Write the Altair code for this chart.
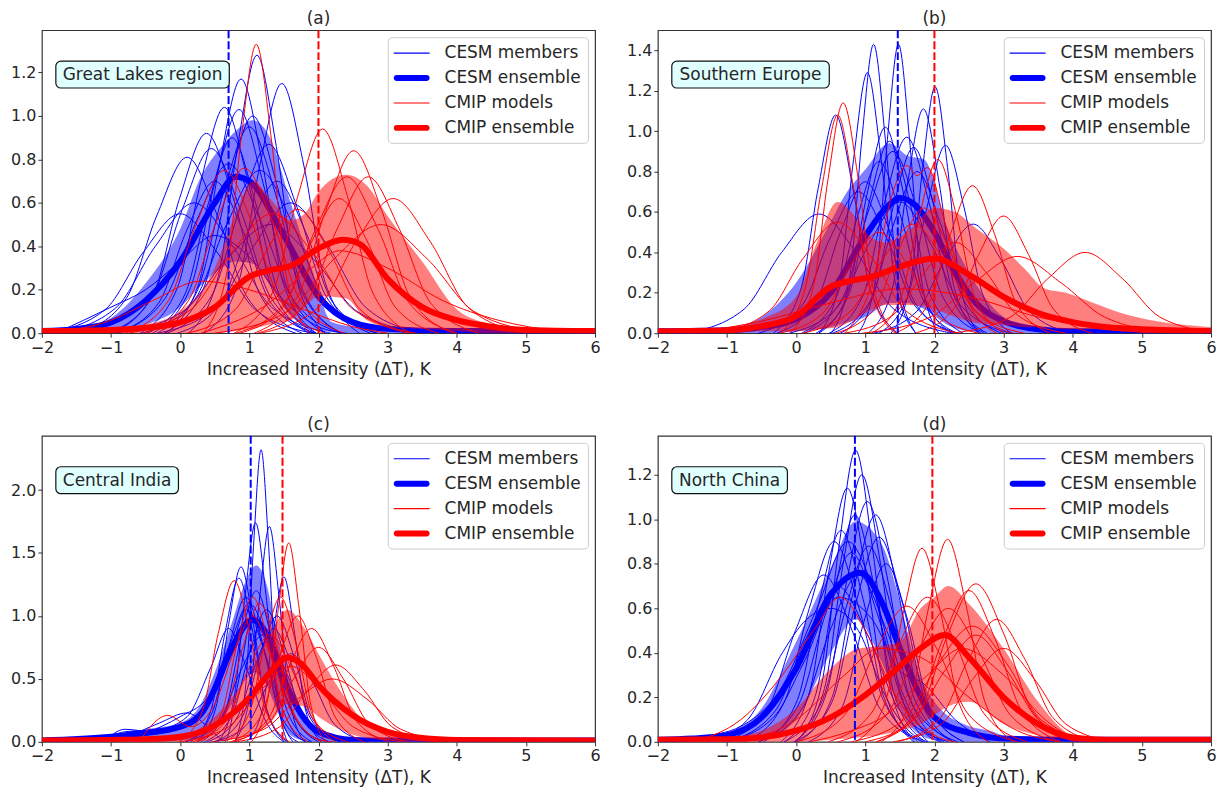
import altair as alt
import pandas as pd

# ---------------- data ----------------
SERIES = ["CESM members", "CESM ensemble", "CMIP models", "CMIP ensemble"]
X_TICKS = [-2, -1, 0, 1, 2, 3, 4, 5, 6]

# ----- (a) Great Lakes region -----
A_CESM_MEMBERS = [
    ([0.12, 0.55, 0.83, 1.11, 1.39, 1.67, 2.10], [0, 0.26, 0.86, 1.28, 0.86, 0.26, 0]),
    ([-0.21, 0.27, 0.57, 0.88, 1.19, 1.49, 1.97], [0, 0.23, 0.78, 1.17, 0.78, 0.23, 0]),
    ([0.35, 0.84, 1.15, 1.47, 1.79, 2.10, 2.59], [0, 0.23, 0.77, 1.15, 0.77, 0.23, 0]),
    ([-0.58, -0.04, 0.30, 0.64, 0.98, 1.32, 1.86], [0, 0.21, 0.70, 1.04, 0.70, 0.21, 0]),
    ([-0.40, 0.15, 0.50, 0.85, 1.20, 1.55, 2.10], [0, 0.21, 0.69, 1.03, 0.69, 0.21, 0]),
    ([-1.00, -0.39, -0.01, 0.38, 0.77, 1.15, 1.76], [0, 0.18, 0.62, 0.92, 0.62, 0.18, 0]),
    ([-1.47, -0.78, -0.34, 0.10, 0.54, 0.98, 1.67], [0, 0.16, 0.54, 0.81, 0.54, 0.16, 0]),
    ([-0.19, 0.45, 0.87, 1.28, 1.69, 2.11, 2.75], [0, 0.17, 0.58, 0.87, 0.58, 0.17, 0]),
    ([-0.34, 0.24, 0.62, 1.00, 1.38, 1.76, 2.34], [0, 0.19, 0.64, 0.95, 0.64, 0.19, 0]),
    ([-0.93, -0.22, 0.24, 0.70, 1.16, 1.62, 2.33], [0, 0.16, 0.52, 0.78, 0.52, 0.16, 0]),
    ([-0.55, 0.20, 0.67, 1.15, 1.63, 2.10, 2.85], [0, 0.15, 0.50, 0.75, 0.50, 0.15, 0]),
    ([-1.78, -0.92, -0.36, 0.20, 0.76, 1.32, 2.18], [0, 0.12, 0.40, 0.60, 0.40, 0.12, 0]),
    ([-1.8, -1.0, -0.5, 0.0, 0.5, 1.0, 1.5, 2.0, 2.4], [0, 0.12, 0.20, 0.33, 0.45, 0.35, 0.15, 0.03, 0]),
    ([-0.32, 0.52, 1.06, 1.60, 2.14, 2.68, 3.52], [0, 0.12, 0.40, 0.60, 0.40, 0.12, 0]),
    ([-0.94, 0.04, 0.67, 1.30, 1.93, 2.56, 3.54], [0, 0.10, 0.34, 0.50, 0.34, 0.10, 0]),
    ([-0.94, -0.31, 0.09, 0.50, 0.91, 1.31, 1.94], [0, 0.14, 0.47, 0.70, 0.47, 0.14, 0]),
    ([-1.05, -0.40, 0.03, 0.45, 0.87, 1.30, 1.95], [0, 0.17, 0.57, 0.85, 0.57, 0.17, 0]),
    ([-0.23, 0.33, 0.69, 1.05, 1.41, 1.77, 2.33], [0, 0.20, 0.67, 1.00, 0.67, 0.20, 0]),
    ([-1.92, -1.08, -0.54, 0.00, 0.54, 1.08, 1.92], [0, 0.11, 0.37, 0.55, 0.37, 0.11, 0]),
    ([-0.04, 0.59, 0.99, 1.40, 1.81, 2.21, 2.84], [0, 0.14, 0.47, 0.70, 0.47, 0.14, 0]),
    ([-0.47, 0.07, 0.41, 0.75, 1.09, 1.43, 1.97], [0, 0.18, 0.60, 0.90, 0.60, 0.18, 0]),
]
A_CMIP_MODELS = [
    ([0.33, 0.67, 0.88, 1.10, 1.32, 1.53, 1.87], [0, 0.27, 0.89, 1.33, 0.89, 0.27, 0]),
    ([0.78, 1.34, 1.70, 2.06, 2.42, 2.78, 3.34], [0, 0.19, 0.63, 0.94, 0.63, 0.19, 0]),
    ([1.07, 1.70, 2.10, 2.51, 2.92, 3.32, 3.95], [0, 0.17, 0.56, 0.84, 0.56, 0.17, 0]),
    ([-0.51, 0.12, 0.52, 0.93, 1.34, 1.74, 2.37], [0, 0.15, 0.51, 0.76, 0.51, 0.15, 0]),
    ([-0.80, -0.17, 0.23, 0.64, 1.05, 1.45, 2.08], [0, 0.15, 0.50, 0.75, 0.50, 0.15, 0]),
    ([0.81, 1.51, 1.96, 2.41, 2.86, 3.31, 4.01], [0, 0.14, 0.48, 0.72, 0.48, 0.14, 0]),
    ([1.12, 1.82, 2.27, 2.72, 3.17, 3.62, 4.32], [0, 0.14, 0.48, 0.72, 0.48, 0.14, 0]),
    ([1.16, 2.00, 2.54, 3.08, 3.62, 4.16, 5.00], [0, 0.12, 0.42, 0.62, 0.42, 0.12, 0]),
    ([-0.75, 0.16, 0.74, 1.33, 1.92, 2.50, 3.41], [0, 0.11, 0.37, 0.55, 0.37, 0.11, 0]),
    ([-1.9, -1.0, -0.4, 0.3, 1.0, 1.7, 2.5, 3.0], [0, 0.06, 0.15, 0.24, 0.20, 0.12, 0.03, 0]),
    ([0.50, 1.55, 2.22, 2.90, 3.58, 4.25, 5.30], [0, 0.10, 0.34, 0.50, 0.34, 0.10, 0]),
    ([0.3, 1.2, 1.9, 2.3, 3.0, 3.8, 4.6, 5.5, 6.0], [0, 0.12, 0.30, 0.38, 0.30, 0.15, 0.06, 0.01, 0]),
    ([0.10, 0.80, 1.25, 1.70, 2.15, 2.60, 3.30], [0, 0.11, 0.38, 0.57, 0.38, 0.11, 0]),
    ([0.86, 1.49, 1.90, 2.30, 2.71, 3.11, 3.74], [0, 0.12, 0.42, 0.62, 0.42, 0.12, 0]),
]
A_CESM_ENS = ([-2, -1.5, -1, -0.5, 0, 0.5, 0.8, 1.0, 1.5, 2.0, 2.5, 3.0, 4.0, 6.0],
              [0.01, 0.02, 0.05, 0.15, 0.33, 0.60, 0.72, 0.70, 0.45, 0.17, 0.05, 0.02, 0.01, 0.01])
A_CMIP_ENS = ([-2, -1, -0.5, 0, 0.5, 1.0, 1.3, 1.6, 2.0, 2.35, 2.6, 3.0, 3.5, 4.0, 4.5, 5.0, 6.0],
              [0.01, 0.015, 0.025, 0.05, 0.12, 0.26, 0.29, 0.31, 0.39, 0.43, 0.41, 0.25, 0.12, 0.06, 0.03, 0.015, 0.01])
A_CESM_BAND_X = [-2, -1.5, -1, -0.5, 0, 0.3, 0.6, 0.8, 1.05, 1.3, 1.6, 1.9, 2.2, 2.5, 3, 4, 6]
A_CESM_BAND_HI = [0.01, 0.02, 0.07, 0.23, 0.48, 0.72, 0.86, 0.93, 0.98, 0.90, 0.60, 0.30, 0.05, 0.03, 0.02, 0.01, 0.01]
A_CESM_BAND_LO = [0, 0, 0.01, 0.04, 0.12, 0.22, 0.3, 0.33, 0.32, 0.22, 0.08, 0.02, 0.005, 0, 0, 0, 0]
A_CMIP_BAND_X = [-2, -1, -0.5, 0, 0.5, 0.8, 1.05, 1.3, 1.6, 1.8, 2.0, 2.4, 2.7, 3.0, 3.5, 4.0, 4.5, 5.0, 6]
A_CMIP_BAND_HI = [0.01, 0.02, 0.04, 0.10, 0.30, 0.55, 0.70, 0.62, 0.52, 0.55, 0.65, 0.73, 0.68, 0.54, 0.33, 0.11, 0.04, 0.015, 0.01]
A_CMIP_BAND_LO = [0, 0, 0, 0, 0, 0.01, 0.02, 0.04, 0.06, 0.12, 0.17, 0.16, 0.06, 0.03, 0.02, 0.01, 0, 0, 0]
A_MEANS = (0.70, 2.00)

# ----- (b) Southern Europe -----
B_CESM_MEMBERS = [
    ([0.51, 0.78, 0.95, 1.12, 1.29, 1.46, 1.73], [0, 0.29, 0.96, 1.43, 0.96, 0.29, 0]),
    ([0.90, 1.16, 1.32, 1.48, 1.64, 1.80, 2.06], [0, 0.29, 0.96, 1.43, 0.96, 0.29, 0]),
    ([0.33, 0.63, 0.83, 1.03, 1.23, 1.43, 1.73], [0, 0.26, 0.86, 1.29, 0.86, 0.26, 0]),
    ([1.37, 1.65, 1.83, 2.01, 2.19, 2.37, 2.65], [0, 0.24, 0.82, 1.22, 0.82, 0.24, 0]),
    ([-0.33, 0.07, 0.32, 0.57, 0.82, 1.07, 1.47], [0, 0.22, 0.72, 1.08, 0.72, 0.22, 0]),
    ([1.04, 1.39, 1.61, 1.84, 2.07, 2.29, 2.64], [0, 0.22, 0.74, 1.11, 0.74, 0.22, 0]),
    ([0.33, 0.75, 1.02, 1.29, 1.56, 1.83, 2.25], [0, 0.20, 0.68, 1.02, 0.68, 0.20, 0]),
    ([1.20, 1.62, 1.89, 2.16, 2.43, 2.70, 3.12], [0, 0.19, 0.62, 0.93, 0.62, 0.19, 0]),
    ([-1.59, -0.75, -0.21, 0.33, 0.87, 1.41, 2.25], [0, 0.12, 0.40, 0.59, 0.40, 0.12, 0]),
    ([1.12, 1.75, 2.15, 2.56, 2.97, 3.37, 4.00], [0, 0.11, 0.36, 0.54, 0.36, 0.11, 0]),
    ([0.48, 0.97, 1.28, 1.60, 1.92, 2.23, 2.72], [0, 0.19, 0.65, 0.97, 0.65, 0.19, 0]),
    ([0.12, 0.68, 1.04, 1.40, 1.76, 2.12, 2.68], [0, 0.18, 0.60, 0.90, 0.60, 0.18, 0]),
    ([0.53, 1.07, 1.41, 1.75, 2.09, 2.43, 2.97], [0, 0.16, 0.54, 0.80, 0.54, 0.16, 0]),
    ([-0.28, 0.28, 0.64, 1.00, 1.36, 1.72, 2.28], [0, 0.15, 0.50, 0.75, 0.50, 0.15, 0]),
    ([0.29, 0.76, 1.05, 1.35, 1.65, 1.94, 2.41], [0, 0.19, 0.64, 0.95, 0.64, 0.19, 0]),
    ([0.08, 0.57, 0.88, 1.20, 1.52, 1.83, 2.32], [0, 0.17, 0.57, 0.85, 0.57, 0.17, 0]),
    ([0.64, 1.11, 1.40, 1.70, 2.00, 2.29, 2.76], [0, 0.18, 0.62, 0.92, 0.62, 0.18, 0]),
    ([-0.54, 0.09, 0.49, 0.90, 1.31, 1.71, 2.34], [0, 0.14, 0.47, 0.70, 0.47, 0.14, 0]),
    ([-0.10, 0.60, 1.05, 1.50, 1.95, 2.40, 3.10], [0, 0.13, 0.44, 0.65, 0.44, 0.13, 0]),
]
B_CMIP_MODELS = [
    ([-0.09, 0.25, 0.46, 0.68, 0.90, 1.11, 1.45], [0, 0.23, 0.76, 1.14, 0.76, 0.23, 0]),
    ([-0.23, 0.13, 0.37, 0.60, 0.83, 1.07, 1.43], [0, 0.22, 0.72, 1.08, 0.72, 0.22, 0]),
    ([1.43, 1.92, 2.23, 2.55, 2.87, 3.18, 3.67], [0, 0.15, 0.49, 0.73, 0.49, 0.15, 0]),
    ([1.72, 2.28, 2.64, 3.00, 3.36, 3.72, 4.28], [0, 0.12, 0.39, 0.58, 0.39, 0.12, 0]),
    ([2.26, 3.10, 3.64, 4.18, 4.72, 5.26, 6.10], [0, 0.08, 0.27, 0.40, 0.27, 0.08, 0]),
    ([1.09, 1.51, 1.78, 2.05, 2.32, 2.59, 3.01], [0, 0.17, 0.58, 0.86, 0.58, 0.17, 0]),
    ([0.7, 1.1, 1.4, 1.6, 1.75, 1.9, 2.15, 2.5, 2.9], [0, 0.25, 0.70, 0.83, 0.78, 0.82, 0.55, 0.15, 0]),
    ([-1.16, -0.39, 0.10, 0.60, 1.10, 1.59, 2.36], [0, 0.11, 0.37, 0.55, 0.37, 0.11, 0]),
    ([0.09, 0.79, 1.24, 1.69, 2.14, 2.59, 3.29], [0, 0.11, 0.36, 0.54, 0.36, 0.11, 0]),
    ([0.96, 1.94, 2.57, 3.20, 3.83, 4.46, 5.44], [0, 0.08, 0.25, 0.38, 0.25, 0.08, 0]),
    ([-0.24, 0.39, 0.79, 1.20, 1.61, 2.01, 2.64], [0, 0.10, 0.34, 0.50, 0.34, 0.10, 0]),
    ([0.70, 1.40, 1.85, 2.30, 2.75, 3.20, 3.90], [0, 0.09, 0.30, 0.45, 0.30, 0.09, 0]),
    ([-1.5, -0.5, 0.5, 1.5, 2.5, 3.5, 4.5, 5.2], [0, 0.06, 0.15, 0.22, 0.18, 0.08, 0.02, 0]),
    ([0.57, 1.13, 1.49, 1.85, 2.21, 2.57, 3.13], [0, 0.12, 0.42, 0.62, 0.42, 0.12, 0]),
]
B_CESM_ENS = ([-2, -1, -0.5, 0, 0.5, 1.0, 1.3, 1.5, 1.7, 2.0, 2.3, 2.6, 3.0, 3.5, 4, 6],
              [0.01, 0.015, 0.03, 0.07, 0.20, 0.48, 0.62, 0.67, 0.64, 0.50, 0.30, 0.15, 0.06, 0.02, 0.01, 0.01])
B_CMIP_ENS = ([-2, -1, -0.5, 0, 0.5, 0.8, 1.1, 1.5, 2.0, 2.5, 3.0, 3.5, 4.0, 4.5, 5.0, 6],
              [0.01, 0.015, 0.035, 0.085, 0.23, 0.26, 0.28, 0.33, 0.37, 0.29, 0.18, 0.10, 0.055, 0.03, 0.02, 0.01])
B_CESM_BAND_X = [-2, -1, -0.5, 0, 0.5, 0.7, 1.0, 1.35, 1.6, 1.85, 2.2, 2.5, 3.0, 3.5, 6]
B_CESM_BAND_HI = [0.01, 0.02, 0.08, 0.25, 0.55, 0.68, 0.81, 0.94, 0.88, 0.86, 0.51, 0.30, 0.08, 0.02, 0.01]
B_CESM_BAND_LO = [0, 0, 0, 0.01, 0.03, 0.05, 0.08, 0.15, 0.15, 0.12, 0.04, 0.01, 0, 0, 0]
B_CMIP_BAND_X = [-2, -1, -0.5, 0, 0.3, 0.6, 0.8, 1.0, 1.3, 1.6, 2.0, 2.3, 2.6, 3.0, 3.3, 3.6, 3.9, 4.3, 4.7, 5.2, 6]
B_CMIP_BAND_HI = [0.01, 0.03, 0.07, 0.18, 0.45, 0.65, 0.60, 0.50, 0.45, 0.50, 0.62, 0.60, 0.52, 0.42, 0.32, 0.22, 0.20, 0.15, 0.10, 0.06, 0.03]
B_CMIP_BAND_LO = [0, 0, 0.01, 0.01, 0.02, 0.03, 0.06, 0.10, 0.14, 0.14, 0.12, 0.08, 0.05, 0.04, 0.03, 0.03, 0.02, 0.02, 0.02, 0.01, 0.01]
B_MEANS = (1.47, 2.00)

# ----- (c) Central India -----
C_CESM_MEMBERS = [
    ([0.79, 0.95, 1.06, 1.17, 1.28, 1.39, 1.55], [0, 0.46, 1.55, 2.32, 1.55, 0.46, 0]),
    ([0.55, 0.78, 0.94, 1.09, 1.24, 1.40, 1.63], [0, 0.35, 1.17, 1.74, 1.17, 0.35, 0]),
    ([0.78, 1.00, 1.15, 1.29, 1.43, 1.58, 1.80], [0, 0.34, 1.15, 1.71, 1.15, 0.34, 0]),
    ([0.24, 0.52, 0.70, 0.88, 1.06, 1.24, 1.52], [0, 0.28, 0.93, 1.39, 0.93, 0.28, 0]),
    ([0.96, 1.19, 1.35, 1.50, 1.65, 1.81, 2.04], [0, 0.26, 0.88, 1.31, 0.88, 0.26, 0]),
    ([0.15, 0.45, 0.65, 0.85, 1.05, 1.25, 1.55], [0, 0.26, 0.87, 1.30, 0.87, 0.26, 0]),
    ([0.30, 0.65, 0.87, 1.10, 1.33, 1.55, 1.90], [0, 0.24, 0.80, 1.20, 0.80, 0.24, 0]),
    ([-1.1, -0.8, -0.4, 0.0, 0.5, 0.75, 0.95, 1.2, 1.45, 1.75, 1.9], [0, 0.10, 0.08, 0.12, 0.40, 0.75, 1.05, 0.75, 0.30, 0.02, 0]),
    ([-1.0, -0.5, 0.0, 0.4, 0.75, 1.05, 1.35, 1.65, 2.0], [0, 0.07, 0.20, 0.35, 0.70, 0.95, 0.65, 0.20, 0]),
    ([0.08, 0.57, 0.88, 1.20, 1.52, 1.83, 2.32], [0, 0.17, 0.57, 0.85, 0.57, 0.17, 0]),
    ([-0.9, -0.3, 0.1, 0.4, 0.65, 0.85, 1.05, 1.25, 1.5, 1.7], [0, 0.15, 0.23, 0.12, 0.01, 0.50, 1.00, 0.65, 0.12, 0]),
    ([0.39, 0.81, 1.08, 1.35, 1.62, 1.89, 2.31], [0, 0.18, 0.60, 0.90, 0.60, 0.18, 0]),
    ([-1.2, -0.7, -0.2, 0.3, 0.7, 1.0, 1.3, 1.6, 2.0, 2.2], [0, 0.08, 0.10, 0.25, 0.75, 1.10, 0.75, 0.25, 0.02, 0]),
    ([0.48, 0.97, 1.28, 1.60, 1.92, 2.23, 2.72], [0, 0.14, 0.47, 0.70, 0.47, 0.14, 0]),
    ([0.09, 0.46, 0.71, 0.95, 1.19, 1.44, 1.81], [0, 0.23, 0.77, 1.15, 0.77, 0.23, 0]),
    ([0.35, 0.75, 1.00, 1.25, 1.50, 1.75, 2.15], [0, 0.21, 0.70, 1.05, 0.70, 0.21, 0]),
    ([-1.2, -0.8, -0.3, 0.1, 0.45, 0.7, 0.95, 1.25, 1.5], [0, 0.08, 0.10, 0.20, 0.60, 0.90, 0.60, 0.15, 0]),
    ([0.50, 0.90, 1.15, 1.40, 1.65, 1.90, 2.30], [0, 0.20, 0.67, 1.00, 0.67, 0.20, 0]),
]
C_CMIP_MODELS = [
    ([1.03, 1.26, 1.42, 1.57, 1.72, 1.88, 2.11], [0, 0.32, 1.06, 1.58, 1.06, 0.32, 0]),
    ([-0.02, 0.33, 0.55, 0.78, 1.01, 1.23, 1.58], [0, 0.26, 0.86, 1.28, 0.86, 0.26, 0]),
    ([0.78, 1.27, 1.58, 1.90, 2.22, 2.53, 3.02], [0, 0.18, 0.60, 0.90, 0.60, 0.18, 0]),
    ([0.81, 1.44, 1.84, 2.25, 2.66, 3.06, 3.69], [0, 0.12, 0.41, 0.61, 0.41, 0.12, 0]),
    ([0.65, 1.00, 1.22, 1.45, 1.68, 1.90, 2.25], [0, 0.23, 0.77, 1.15, 0.77, 0.23, 0]),
    ([0.25, 0.65, 0.90, 1.15, 1.40, 1.65, 2.05], [0, 0.22, 0.74, 1.10, 0.74, 0.22, 0]),
    ([0.44, 1.21, 1.70, 2.20, 2.70, 3.19, 3.96], [0, 0.10, 0.34, 0.50, 0.34, 0.10, 0]),
    ([-0.6, -0.18, 0.15, 0.5, 0.8, 1.05, 1.3, 1.6, 2.0, 2.2], [0, 0.21, 0.12, 0.30, 0.75, 1.00, 0.70, 0.25, 0.02, 0]),
    ([0.74, 1.16, 1.43, 1.70, 1.97, 2.24, 2.66], [0, 0.20, 0.67, 1.00, 0.67, 0.20, 0]),
    ([0.18, 0.67, 0.98, 1.30, 1.62, 1.93, 2.42], [0, 0.17, 0.57, 0.85, 0.57, 0.17, 0]),
    ([0.00, 0.70, 1.15, 1.60, 2.05, 2.50, 3.20], [0, 0.12, 0.40, 0.60, 0.40, 0.12, 0]),
    ([0.72, 1.28, 1.64, 2.00, 2.36, 2.72, 3.28], [0, 0.15, 0.50, 0.75, 0.50, 0.15, 0]),
    ([0.25, 0.60, 0.82, 1.05, 1.28, 1.50, 1.85], [0, 0.23, 0.77, 1.15, 0.77, 0.23, 0]),
]
C_CESM_ENS = ([-2, -1, -0.5, 0, 0.3, 0.5, 0.75, 1.05, 1.3, 1.5, 1.75, 2.0, 2.5, 3.0, 6],
              [0.01, 0.04, 0.07, 0.12, 0.22, 0.42, 0.75, 0.97, 0.80, 0.50, 0.22, 0.08, 0.015, 0.01, 0.01])
C_CMIP_ENS = ([-2, -1, -0.5, 0, 0.5, 1.0, 1.3, 1.55, 1.75, 2.0, 2.5, 3.0, 3.5, 4, 6],
              [0.01, 0.015, 0.02, 0.04, 0.13, 0.35, 0.55, 0.67, 0.62, 0.45, 0.21, 0.08, 0.03, 0.015, 0.01])
C_CESM_BAND_X = [-2, -1, -0.5, 0, 0.3, 0.5, 0.75, 0.95, 1.1, 1.25, 1.4, 1.6, 1.8, 2.0, 2.5, 3, 6]
C_CESM_BAND_HI = [0.01, 0.05, 0.10, 0.15, 0.30, 0.55, 0.95, 1.28, 1.40, 1.25, 0.85, 0.45, 0.20, 0.08, 0.02, 0.01, 0.01]
C_CESM_BAND_LO = [0, 0, 0, 0.01, 0.03, 0.10, 0.30, 0.50, 0.55, 0.45, 0.25, 0.05, 0.01, 0, 0, 0, 0]
C_CMIP_BAND_X = [-2, -1, 0, 0.5, 1.0, 1.3, 1.55, 1.8, 2.0, 2.3, 2.6, 3.0, 3.5, 4, 6]
C_CMIP_BAND_HI = [0.01, 0.02, 0.05, 0.20, 0.55, 0.85, 1.05, 0.90, 0.70, 0.42, 0.20, 0.07, 0.02, 0.01, 0.01]
C_CMIP_BAND_LO = [0, 0, 0, 0.01, 0.05, 0.15, 0.30, 0.28, 0.20, 0.10, 0.04, 0.01, 0, 0, 0]
C_MEANS = (1.02, 1.48)

# ----- (d) North China -----
D_CESM_MEMBERS = [
    ([0.00, 0.37, 0.62, 0.86, 1.10, 1.35, 1.72], [0, 0.26, 0.88, 1.31, 0.88, 0.26, 0]),
    ([-0.01, 0.41, 0.68, 0.95, 1.22, 1.49, 1.91], [0, 0.24, 0.80, 1.20, 0.80, 0.24, 0]),
    ([-0.22, 0.20, 0.47, 0.74, 1.01, 1.28, 1.70], [0, 0.23, 0.76, 1.14, 0.76, 0.23, 0]),
    ([-0.03, 0.44, 0.73, 1.03, 1.33, 1.62, 2.09], [0, 0.22, 0.72, 1.08, 0.72, 0.22, 0]),
    ([0.03, 0.52, 0.83, 1.15, 1.47, 1.78, 2.27], [0, 0.20, 0.68, 1.02, 0.68, 0.20, 0]),
    ([-0.73, -0.17, 0.19, 0.55, 0.91, 1.27, 1.83], [0, 0.18, 0.60, 0.90, 0.60, 0.18, 0]),
    ([-1.3, -0.7, -0.2, 0.15, 0.5, 0.9, 1.3, 1.7, 1.9], [0, 0.10, 0.40, 0.55, 0.60, 0.50, 0.20, 0.03, 0]),
    ([-0.02, 0.52, 0.86, 1.20, 1.54, 1.88, 2.42], [0, 0.18, 0.62, 0.92, 0.62, 0.18, 0]),
    ([-0.54, 0.04, 0.42, 0.80, 1.18, 1.56, 2.14], [0, 0.17, 0.57, 0.85, 0.57, 0.17, 0]),
    ([-1.0, -0.3, 0.1, 0.6, 1.1, 1.5, 1.85, 2.3, 2.8], [0, 0.12, 0.35, 0.65, 0.55, 0.32, 0.26, 0.10, 0]),
    ([-1.00, -0.30, 0.15, 0.60, 1.05, 1.50, 2.20], [0, 0.14, 0.47, 0.70, 0.47, 0.14, 0]),
    ([0.18, 0.67, 0.98, 1.30, 1.62, 1.93, 2.42], [0, 0.16, 0.54, 0.80, 0.54, 0.16, 0]),
    ([-1.7, -1.4, -0.8, -0.2, 0.3, 0.75, 1.1, 1.5, 1.9, 2.1], [0, 0.02, 0.07, 0.25, 0.60, 0.90, 0.70, 0.25, 0.03, 0]),
    ([-0.54, 0.09, 0.49, 0.90, 1.31, 1.71, 2.34], [0, 0.15, 0.50, 0.75, 0.50, 0.15, 0]),
    ([-0.47, 0.02, 0.34, 0.65, 0.97, 1.28, 1.77], [0, 0.19, 0.64, 0.95, 0.64, 0.19, 0]),
    ([-0.17, 0.37, 0.71, 1.05, 1.39, 1.73, 2.27], [0, 0.18, 0.59, 0.88, 0.59, 0.18, 0]),
    ([-1.04, -0.41, -0.01, 0.40, 0.81, 1.21, 1.84], [0, 0.15, 0.50, 0.75, 0.50, 0.15, 0]),
    ([-0.17, 0.27, 0.56, 0.85, 1.14, 1.43, 1.87], [0, 0.20, 0.68, 1.02, 0.68, 0.20, 0]),
]
D_CMIP_MODELS = [
    ([1.23, 1.65, 1.92, 2.19, 2.46, 2.73, 3.15], [0, 0.18, 0.61, 0.91, 0.61, 0.18, 0]),
    ([0.86, 1.28, 1.55, 1.82, 2.09, 2.36, 2.78], [0, 0.17, 0.58, 0.87, 0.58, 0.17, 0]),
    ([-1.5, -0.8, -0.2, 0.25, 0.64, 1.0, 1.45, 2.0, 2.3], [0, 0.10, 0.30, 0.50, 0.65, 0.50, 0.20, 0.03, 0]),
    ([1.16, 1.79, 2.19, 2.60, 3.01, 3.41, 4.04], [0, 0.14, 0.48, 0.71, 0.48, 0.14, 0]),
    ([1.16, 1.74, 2.12, 2.50, 2.88, 3.26, 3.84], [0, 0.14, 0.46, 0.68, 0.46, 0.14, 0]),
    ([0.79, 1.56, 2.05, 2.55, 3.05, 3.54, 4.31], [0, 0.10, 0.35, 0.52, 0.35, 0.10, 0]),
    ([0.00, 0.70, 1.15, 1.60, 2.05, 2.50, 3.20], [0, 0.12, 0.41, 0.61, 0.41, 0.12, 0]),
    ([0.46, 1.09, 1.49, 1.90, 2.31, 2.71, 3.34], [0, 0.13, 0.44, 0.65, 0.44, 0.13, 0]),
    ([1.46, 2.09, 2.49, 2.90, 3.31, 3.71, 4.34], [0, 0.11, 0.37, 0.55, 0.37, 0.11, 0]),
    ([-0.8, 0.0, 0.7, 1.2, 1.8, 2.5, 3.2, 3.8], [0, 0.10, 0.30, 0.42, 0.38, 0.20, 0.05, 0]),
    ([0.60, 1.30, 1.75, 2.20, 2.65, 3.10, 3.80], [0, 0.12, 0.40, 0.60, 0.40, 0.12, 0]),
    ([1.40, 2.10, 2.55, 3.00, 3.45, 3.90, 4.60], [0, 0.08, 0.28, 0.42, 0.28, 0.08, 0]),
    ([0.2, 0.8, 1.3, 1.9, 2.4, 3.0, 3.6, 4.1], [0, 0.05, 0.12, 0.30, 0.42, 0.30, 0.10, 0]),
    ([1.00, 1.70, 2.15, 2.60, 3.05, 3.50, 4.20], [0, 0.10, 0.32, 0.48, 0.32, 0.10, 0]),
]
D_CESM_ENS = ([-2, -1.5, -1, -0.5, 0, 0.5, 0.93, 1.25, 1.5, 2.0, 2.5, 3.0, 4, 6],
              [0.01, 0.015, 0.03, 0.11, 0.33, 0.66, 0.76, 0.62, 0.42, 0.11, 0.04, 0.015, 0.01, 0.01])
D_CMIP_ENS = ([-2, -1, -0.5, 0, 0.5, 1.0, 1.5, 1.8, 2.15, 2.5, 3.0, 3.5, 4.0, 4.5, 6],
              [0.01, 0.012, 0.02, 0.05, 0.11, 0.21, 0.34, 0.42, 0.48, 0.38, 0.20, 0.08, 0.02, 0.01, 0.01])
D_CESM_BAND_X = [-2, -1.5, -1, -0.5, 0, 0.5, 0.86, 1.25, 1.5, 1.75, 2.0, 2.5, 2.8, 3.2, 6]
D_CESM_BAND_HI = [0.01, 0.015, 0.04, 0.15, 0.45, 0.78, 0.99, 0.88, 0.63, 0.33, 0.18, 0.07, 0.05, 0.01, 0.01]
D_CESM_BAND_LO = [0, 0, 0, 0.01, 0.10, 0.40, 0.55, 0.35, 0.15, 0.04, 0.01, 0, 0, 0, 0]
D_CMIP_BAND_X = [-2, -1, -0.5, 0, 0.5, 0.9, 1.2, 1.5, 1.8, 2.0, 2.2, 2.5, 3.0, 3.5, 4.0, 4.5, 6]
D_CMIP_BAND_HI = [0.01, 0.02, 0.05, 0.15, 0.33, 0.42, 0.43, 0.45, 0.60, 0.65, 0.70, 0.62, 0.42, 0.18, 0.03, 0.01, 0.01]
D_CMIP_BAND_LO = [0, 0, 0, 0, 0.01, 0.02, 0.03, 0.05, 0.08, 0.12, 0.16, 0.18, 0.08, 0.03, 0.01, 0, 0]
D_MEANS = (0.85, 1.97)

PANEL_TITLES = ["(a)", "(b)", "(c)", "(d)"]
REGIONS = ["Great Lakes region", "Southern Europe", "Central India", "North China"]
BOX_WIDTHS = [174, 158, 123, 116]          # label box widths in px
Y_MAX = [1.395, 1.50, 2.43, 1.375]
Y_TICKS = [[0, 0.2, 0.4, 0.6, 0.8, 1.0, 1.2],
           [0, 0.2, 0.4, 0.6, 0.8, 1.0, 1.2, 1.4],
           [0, 0.5, 1.0, 1.5, 2.0],
           [0, 0.2, 0.4, 0.6, 0.8, 1.0, 1.2]]

BLUE = "#0000ff"
RED = "#ff0000"
SERIES_COLORS = [BLUE, BLUE, RED, RED]
FONT = "DejaVu Sans"
TEXT = "#262626"
THIN = "M-2,-0.06H2V0.06H-2Z"
THICK = "M-1.67,-0.33H1.67A0.33,0.33 0 0 1 1.67,0.33H-1.67A0.33,0.33 0 0 1 -1.67,-0.33Z"

color_scale = alt.Scale(domain=SERIES, range=SERIES_COLORS)
shape_scale = alt.Scale(domain=SERIES, range=[THIN, THICK, THIN, THICK])


def curves_df(curves, k):
    rows = []
    for i, (xs, ys) in enumerate(curves):
        for x, y in zip(xs, ys):
            rows.append({"curve": f"{SERIES[k]} {i}", "series": SERIES[k],
                         "hex": SERIES_COLORS[k], "x": x, "y": y})
    return pd.DataFrame(rows)


def band_df(xs, lo, hi):
    return pd.DataFrame({"x": xs, "lo": lo, "hi": hi})


def panel(idx, cesm_members, cmip_models, cesm_ens, cmip_ens,
          cesm_band, cmip_band, means, height):
    xs = alt.X("x:Q", scale=alt.Scale(domain=[-2, 6], nice=False, zero=False),
               axis=alt.Axis(values=X_TICKS, title="Increased Intensity (ΔT), K", format="d"))
    ys = alt.Y("y:Q", scale=alt.Scale(domain=[0, Y_MAX[idx]], nice=False, zero=False),
               axis=alt.Axis(values=Y_TICKS[idx], format=".1f", title=None))
    y_hi = alt.Y("hi:Q", scale=alt.Scale(domain=[0, Y_MAX[idx]], nice=False, zero=False),
                 axis=alt.Axis(values=Y_TICKS[idx], format=".1f", title=None))
    col = alt.Color("hex:N", scale=None)

    def band(data, color):
        return alt.Chart(data).mark_area(color=color, opacity=0.5, interpolate="monotone",
                                         clip=True).encode(x=xs, y=y_hi, y2="lo:Q")

    def lines(data, width):
        return alt.Chart(data).mark_line(strokeWidth=width, interpolate="monotone", clip=True,
                                         strokeCap="round", strokeJoin="round").encode(
            x=xs, y=ys, detail="curve:N", color=col)

    def rule(x, color):
        return alt.Chart(pd.DataFrame({"x": [x]})).mark_rule(
            color=color, strokeWidth=2, strokeDash=[8, 3]).encode(x=xs)

    leg = alt.Legend(orient="top-right", offset=7, fillColor="white", strokeColor="#cccccc",
                     cornerRadius=4, padding=7, labelFontSize=17, labelFont=FONT,
                     labelColor=TEXT, symbolSize=324, symbolOffset=8, labelOffset=24,
                     rowPadding=8, title=None, symbolStrokeWidth=0, labelLimit=300,
                     symbolOpacity=1)
    legend_layer = alt.Chart(pd.DataFrame({"series": SERIES})).transform_filter(
        "datum.series == 'none'").mark_point(filled=True, opacity=1).encode(
        color=alt.Color("series:N", scale=color_scale, legend=leg),
        shape=alt.Shape("series:N", scale=shape_scale, legend=leg))

    w = BOX_WIDTHS[idx]
    box_df = pd.DataFrame({"label": [REGIONS[idx]]})
    box = alt.Chart(box_df).mark_rect(fill="#e0ffff", stroke="#111111", strokeWidth=1.2,
                                      cornerRadius=5).encode(
        x=alt.value(14), x2=alt.value(14 + w), y=alt.value(31), y2=alt.value(58))
    label = alt.Chart(box_df).mark_text(font=FONT, fontSize=17, color=TEXT, align="center",
                                        baseline="middle").encode(
        x=alt.value(14 + w / 2), y=alt.value(45), text="label:N")

    layers = [
        band(cesm_band, BLUE),
        lines(curves_df(cesm_members, 0), 1),
        lines(curves_df([cesm_ens], 1), 6),
        band(cmip_band, RED),
        lines(curves_df(cmip_models, 2), 1),
        lines(curves_df([cmip_ens], 3), 6),
        rule(means[0], BLUE),
        rule(means[1], RED),
        legend_layer,
        box,
        label,
    ]
    return alt.layer(*layers).properties(
        width=555, height=height,
        title=alt.TitleParams(PANEL_TITLES[idx], fontSize=17, font=FONT,
                              fontWeight="normal", color=TEXT, offset=1))


pa = panel(0, A_CESM_MEMBERS, A_CMIP_MODELS, A_CESM_ENS, A_CMIP_ENS,
           band_df(A_CESM_BAND_X, A_CESM_BAND_LO, A_CESM_BAND_HI),
           band_df(A_CMIP_BAND_X, A_CMIP_BAND_LO, A_CMIP_BAND_HI), A_MEANS, 304)
pb = panel(1, B_CESM_MEMBERS, B_CMIP_MODELS, B_CESM_ENS, B_CMIP_ENS,
           band_df(B_CESM_BAND_X, B_CESM_BAND_LO, B_CESM_BAND_HI),
           band_df(B_CMIP_BAND_X, B_CMIP_BAND_LO, B_CMIP_BAND_HI), B_MEANS, 304)
pc = panel(2, C_CESM_MEMBERS, C_CMIP_MODELS, C_CESM_ENS, C_CMIP_ENS,
           band_df(C_CESM_BAND_X, C_CESM_BAND_LO, C_CESM_BAND_HI),
           band_df(C_CMIP_BAND_X, C_CMIP_BAND_LO, C_CMIP_BAND_HI), C_MEANS, 307)
pd_ = panel(3, D_CESM_MEMBERS, D_CMIP_MODELS, D_CESM_ENS, D_CMIP_ENS,
            band_df(D_CESM_BAND_X, D_CESM_BAND_LO, D_CESM_BAND_HI),
            band_df(D_CMIP_BAND_X, D_CMIP_BAND_LO, D_CMIP_BAND_HI), D_MEANS, 307)


def indep(ch):
    return ch.resolve_scale(color="independent", shape="independent").resolve_legend(
        color="independent", shape="independent")


top = indep(alt.hconcat(pa, pb, spacing=24))
bottom = indep(alt.hconcat(pc, pd_, spacing=24))
chart = indep(alt.vconcat(top, bottom, spacing=37)).properties(
    padding={"left": 1, "top": 0, "right": 0, "bottom": 0}
).configure(font=FONT).configure_view(
    stroke="#333333", strokeWidth=1.2
).configure_axis(
    domain=False, grid=False, labelFont=FONT, labelFontSize=16, labelColor=TEXT,
    tickColor="#333333", tickSize=4, labelPadding=2, titleFont=FONT, titleFontSize=17,
    titleFontWeight="normal", titleColor=TEXT, titlePadding=6, labelFlush=False
)

chart.save("out.html", embed_options={"renderer": "svg", "actions": False})
